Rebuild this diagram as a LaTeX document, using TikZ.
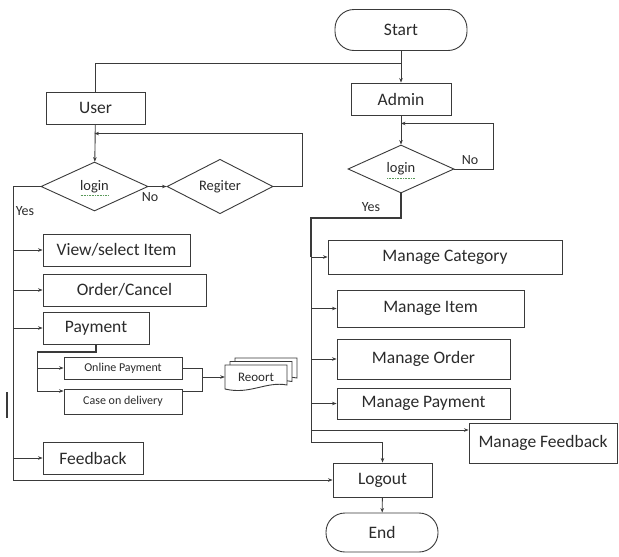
\documentclass[tikz,border=0pt]{standalone}
\usepackage{fontspec}
\setmainfont{Carlito}
\usetikzlibrary{shapes.geometric,arrows.meta,calc}
\definecolor{ln}{HTML}{3A3A3A}
\definecolor{tx}{HTML}{2B2B2B}
\definecolor{spell}{HTML}{5A9A5A}
\tikzset{
  line/.style={draw=ln, line width=0.9pt},
  arr/.style={line, -{Stealth[length=4.5pt,width=3.5pt]}},
  box/.style={draw=ln, line width=0.9pt, rectangle, inner sep=0pt, text=tx, font=\fontsize{17.5}{20}\selectfont},
  pill/.style={box, rounded corners=19pt},
  dia/.style={diamond, draw=ln, line width=0.9pt, inner sep=0pt, text=tx, font=\fontsize{14.5}{17}\selectfont},
  smallbox/.style={box, font=\fontsize{12}{14}\selectfont},
  lbl/.style={text=tx, font=\fontsize{14}{16}\selectfont, inner sep=0pt},
  squiggle/.style={draw=spell, line width=0.6pt, densely dotted},
}
\begin{document}
\begin{tikzpicture}[x=1pt,y=-1pt]
\useasboundingbox[fill=white] (0,0) rectangle (619,557);
% nodes
\node[pill, minimum width=132pt, minimum height=41pt] (start) at (401,30) {Start};
\node[box, minimum width=100pt, minimum height=32pt] (admin) at (401,99) {Admin};
\node[box, minimum width=99pt, minimum height=32pt] (user) at (95.5,108) {User};
\node[dia, minimum width=107pt, minimum height=49pt] (ulogin) at (94.5,186.5) {login};
\node[dia, minimum width=106pt, minimum height=49pt] (reg) at (220,186.5) {Regiter};
\node[dia, minimum width=106pt, minimum height=48pt] (alogin) at (401,169) {login};
\node[box, minimum width=147pt, minimum height=32pt] (view) at (116.5,250) {View/select Item};
\node[box, minimum width=163pt, minimum height=32pt] (order) at (124.5,290) {Order/Cancel};
\node[box, minimum width=106pt, minimum height=32pt] (payment) at (96,328) {Payment};
\node[smallbox, minimum width=118pt, minimum height=22pt] (online) at (123,368) {Online Payment};
\node[smallbox, minimum width=118pt, minimum height=25pt] (cod) at (123,401.5) {Case on delivery};
\node[box, minimum width=100pt, minimum height=32pt] (feedback) at (93,458) {Feedback};
\node[box, minimum width=234pt, minimum height=34pt] (mcat) at (445,257) {Manage Category};
\node[box, minimum width=187pt, minimum height=37pt] (mitem) at (430.5,308.5) {Manage Item};
\node[box, minimum width=173pt, minimum height=40pt] (morder) at (423.5,359) {Manage Order};
\node[box, minimum width=173pt, minimum height=31pt] (mpay) at (423.5,403.5) {Manage Payment};
\node[box, minimum width=148pt, minimum height=40pt] (mfeed) at (543,443) {Manage Feedback};
\node[box, minimum width=99pt, minimum height=34pt] (logout) at (382.5,480) {Logout};
\node[pill, minimum width=112pt, minimum height=39pt] (end) at (382,532.5) {End};
% spell-check underlines under "login"
\draw[squiggle] ($(ulogin.center)+(-14,9)$) -- ($(ulogin.center)+(14,9)$);
\draw[squiggle] ($(alogin.center)+(-14,9)$) -- ($(alogin.center)+(14,9)$);
% report (multi-document)
\foreach \d in {10,5,0}
  \filldraw[line, fill=white, shift={(\d,-0.7*\d)}] (225,365) -- (287,365) -- (287,385) .. controls (266,381) and (250,395) .. (225,389) -- cycle;
\node[lbl, font=\fontsize{13}{15}\selectfont, minimum width=62pt] (report) at (256,377) {Reoort};
% start / user / admin
\coordinate (j1) at (401,63);
\draw[arr] (start) -- (admin);
\draw[line] (j1) -| (user.north);
\draw[arr] (admin) -- (alogin);
\draw[arr] (user) -- (ulogin);
\draw[arr] (ulogin) -- (reg);
\node[lbl] at (150,197) {No};
\draw[arr] (reg.east) -- ++(29,0) |- ($(ulogin.north)+(0,-28)$);
% user yes branch
\coordinate (ly) at (13,480);
\draw[arr] (ulogin.west) -| (ly) -- (logout.west);
\node[lbl] at (25,211) {Yes};
\draw[arr] (view.west -| ly) -- (view.west);
\draw[arr] (order.west -| ly) -- (order.west);
\draw[arr] (payment.west -| ly) -- (payment.west);
\draw[arr] (feedback.west -| ly) -- (feedback.west);
% payment split
\coordinate (ps) at (37,352);
\coordinate (pb) at (37,391);
\draw[line, line width=1.5pt] (payment.south) -- (payment.south |- ps) -- (ps);
\draw[line] (ps) -- (pb);
\draw[arr] (online.west -| ps) -- (online.west);
\draw[arr] (pb) -- (pb -| cod.west);
\coordinate (rb) at (202,368);
\draw[line] (online.east) -- (rb) -- (rb |- pb) -- (pb -| cod.east);
\draw[arr] (report.west -| rb) -- (report.west);
% admin branch
\draw[arr] (alogin.east) -- ++(39,0) |- ($(admin.south)+(0,8)$);
\node[lbl] at (470,160) {No};
\coordinate (ay) at (311,218);
\coordinate (ab) at (311,442);
\draw[line, line width=1.7pt] (alogin.south) |- (ay) -- (311,257);
\draw[arr] (ay) -- (ab) -| (logout.north);
\node[lbl] at (371,207) {Yes};
\draw[arr] (mcat.west -| ay) -- (mcat.west);
\draw[arr] (mitem.west -| ay) -- (mitem.west);
\draw[arr] (morder.west -| ay) -- (morder.west);
\draw[arr] (mpay.west -| ay) -- (mpay.west);
\coordinate (mfin) at ($(mfeed.west)+(0,-13)$);
\draw[arr] (mfin -| ay) -- (mfin);
\draw[arr] (logout) -- (end);
% stray mark
\draw[ln, line width=2pt] (7,392) -- (7,418);
\end{tikzpicture}
\end{document}
